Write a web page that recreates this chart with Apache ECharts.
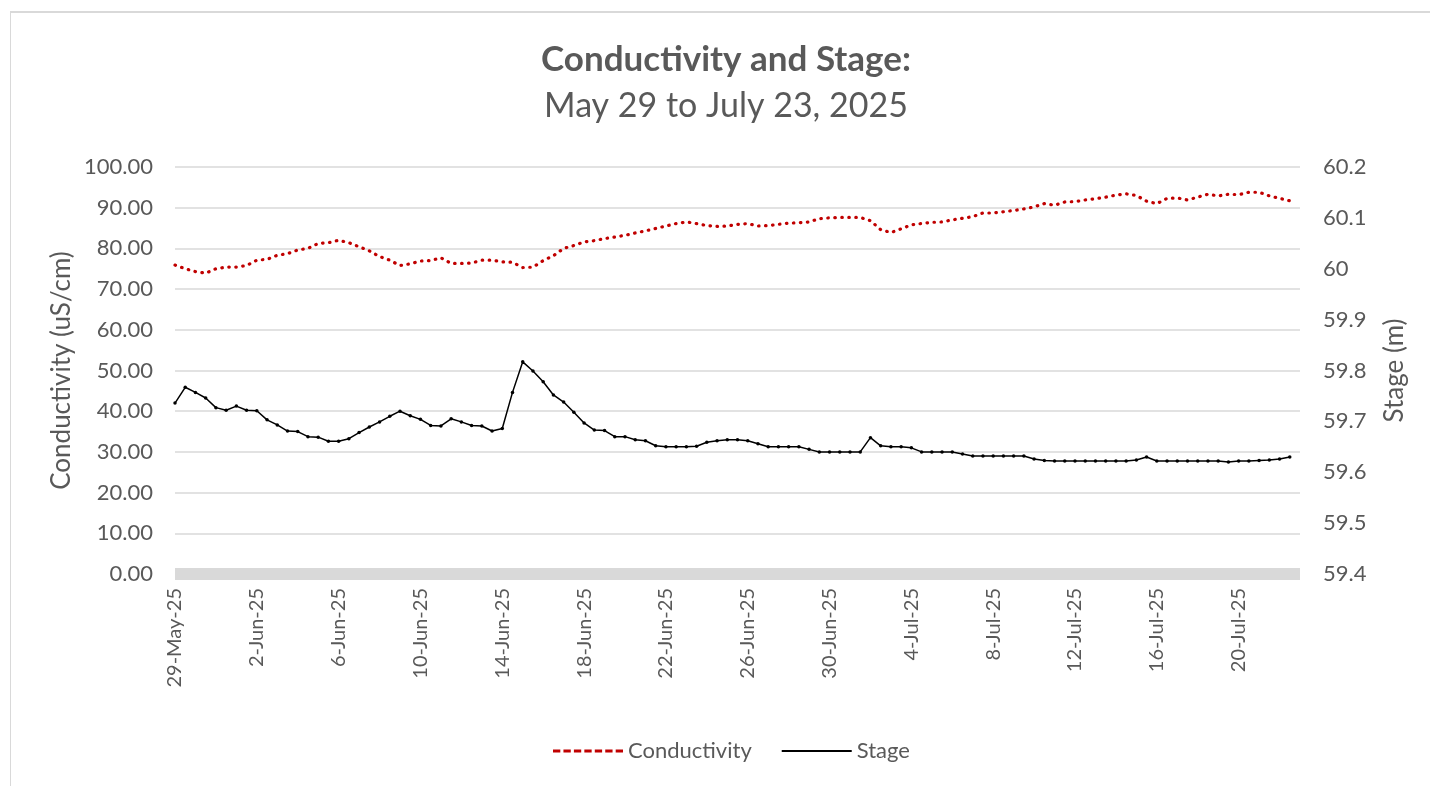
<!DOCTYPE html>
<html>
<head>
<meta charset="utf-8">
<script src="https://cdn.jsdelivr.net/npm/echarts@6/dist/echarts.min.js"></script>
<style>
  html, body { margin: 0; padding: 0; background: #fff; overflow: hidden; }
  #frame { position: absolute; left: 10px; top: 11px; width: 1430px; height: 790px;
           border-left: 1px solid #d9d9d9; border-top: 2px solid #d9d9d9; }
  #chart { position: absolute; left: 0; top: 0; width: 1430px; height: 786px; }
</style>
</head>
<body>
<div id="frame"></div>
<div id="chart"></div>
<script>
// Logger readings every 12 hours, starting 29 May 2025 00:00
const startDate = Date.UTC(2025, 4, 29);
const stepDays = 0.5;

// Conductivity (uS/cm)
const conductivity = [
  75.9, 75.0, 74.3, 73.9, 75.0, 75.4, 75.4, 75.8, 77.1, 77.3,
  78.3, 78.7, 79.6, 80.0, 81.2, 81.4, 82.0, 81.4, 80.4, 79.4,
  78.0, 77.1, 75.8, 76.2, 76.9, 77.0, 77.7, 76.3, 76.3, 76.4,
  77.1, 77.1, 76.7, 76.6, 75.3, 75.4, 77.0, 78.2, 80.0, 80.7,
  81.6, 81.9, 82.4, 82.8, 83.2, 83.8, 84.3, 84.9, 85.5, 86.1,
  86.5, 86.1, 85.6, 85.4, 85.5, 85.9, 86.1, 85.5, 85.6, 85.9,
  86.2, 86.3, 86.5, 87.3, 87.5, 87.6, 87.6, 87.6, 86.8, 84.6,
  83.9, 84.8, 85.8, 86.1, 86.4, 86.5, 87.0, 87.4, 87.8, 88.7,
  88.7, 89.0, 89.3, 89.7, 90.2, 91.0, 90.6, 91.4, 91.5, 91.9,
  92.2, 92.6, 93.1, 93.4, 93.0, 91.6, 91.0, 92.3, 92.4, 91.9,
  92.6, 93.3, 92.9, 93.3, 93.2, 93.8, 93.8, 92.9, 92.3, 91.7
];

// Stage (m)
const stage = [
  59.736, 59.767, 59.757, 59.746, 59.727, 59.722, 59.730, 59.722, 59.721, 59.703,
  59.693, 59.681, 59.680, 59.670, 59.669, 59.661, 59.661, 59.666, 59.678, 59.689,
  59.699, 59.710, 59.720, 59.711, 59.704, 59.692, 59.691, 59.705, 59.699, 59.692,
  59.691, 59.681, 59.686, 59.757, 59.817, 59.799, 59.778, 59.752, 59.738, 59.718,
  59.697, 59.683, 59.682, 59.670, 59.670, 59.664, 59.662, 59.652, 59.650, 59.650,
  59.650, 59.651, 59.659, 59.662, 59.664, 59.664, 59.662, 59.656, 59.650, 59.650,
  59.650, 59.650, 59.645, 59.640, 59.640, 59.640, 59.640, 59.640, 59.668, 59.652,
  59.650, 59.650, 59.648, 59.640, 59.640, 59.640, 59.640, 59.636, 59.632, 59.632,
  59.632, 59.632, 59.632, 59.632, 59.626, 59.623, 59.622, 59.622, 59.622, 59.622,
  59.622, 59.622, 59.622, 59.622, 59.624, 59.630, 59.622, 59.622, 59.622, 59.622,
  59.622, 59.622, 59.622, 59.620, 59.622, 59.622, 59.623, 59.624, 59.626, 59.630
];

// Axis ranges
const dayRange = [0, 55, 4];          // days after start, label every 4 days
const condRange = [0, 100, 10];
const stageRange = [59.4, 60.2, 0.1];
const monthNames = ['Jan','Feb','Mar','Apr','May','Jun','Jul','Aug','Sep','Oct','Nov','Dec'];

const titleText = 'Conductivity and Stage:';
const subtitleText = 'May 29 to July 23, 2025';

function dayLabel(v) {
  if (Math.abs(v % dayRange[2]) > 1e-6) return '';
  const d = new Date(startDate + v * 86400000);
  return d.getUTCDate() + '-' + monthNames[d.getUTCMonth()] + '-' + String(d.getUTCFullYear()).slice(2);
}

const toPairs = arr => arr.map((v, i) => [i * stepDays, v]);

const FONT = 'Lato, "Open Sans", sans-serif';
const TEXT = '#595959';
const GRID = '#d9d9d9';

// legend keys: short red dashes for conductivity, thin solid bar for stage
const dashIcon = 'path://M0,0h7v3h-7z M10,0h7v3h-7z M20,0h7v3h-7z M30,0h7v3h-7z M40,0h7v3h-7z M50,0h7v3h-7z M60,0h7v3h-7z';
const barIcon = 'path://M0,0H67V2H0Z';

const chart = echarts.init(document.getElementById('chart'), null, { renderer: 'canvas' });
chart.setOption({
  backgroundColor: 'transparent',
  animation: false,
  textStyle: { fontFamily: FONT },
  graphic: [
    { type: 'text', x: 726, y: 60,
      style: { text: titleText, fill: TEXT, font: 'bold 35px ' + FONT, align: 'center', verticalAlign: 'middle' } },
    { type: 'text', x: 726, y: 106,
      style: { text: subtitleText, fill: TEXT, font: '34px ' + FONT, align: 'center', verticalAlign: 'middle' } }
  ],
  grid: { left: 175, right: 130, top: 167, bottom: 212, containLabel: false, outerBoundsMode: 'none' },
  legend: {
    left: 548, top: 735, itemWidth: 70, itemHeight: 14, itemGap: 30,
    textStyle: { fontSize: 22, color: TEXT, fontFamily: FONT },
    data: [
      { name: 'Conductivity', icon: dashIcon },
      { name: 'Stage', icon: barIcon }
    ]
  },
  xAxis: {
    type: 'value', min: dayRange[0], max: dayRange[1], interval: dayRange[2],
    axisLine: { show: true, onZero: false, lineStyle: { color: GRID, width: 12, cap: 'butt' } },
    axisTick: { show: false },
    splitLine: { show: false },
    axisLabel: { rotate: 90, margin: 14, fontSize: 20, color: TEXT, fontFamily: FONT,
                 showMaxLabel: false, formatter: dayLabel }
  },
  yAxis: [
    {
      type: 'value', position: 'left', min: condRange[0], max: condRange[1], interval: condRange[2],
      axisLine: { show: false }, axisTick: { show: false },
      splitLine: { show: true, lineStyle: { color: GRID, width: 1.5 } },
      axisLabel: { fontSize: 22, color: TEXT, fontFamily: FONT, margin: 22, formatter: v => v.toFixed(2) },
      name: 'Conductivity (uS/cm)', nameLocation: 'middle', nameRotate: 90, nameGap: 100,
      nameMoveOverlap: false,
      nameTextStyle: { fontSize: 26, color: TEXT, fontFamily: FONT }
    },
    {
      type: 'value', position: 'right', min: stageRange[0], max: stageRange[1], interval: stageRange[2],
      axisLine: { show: false }, axisTick: { show: false },
      splitLine: { show: false },
      axisLabel: { fontSize: 22, color: TEXT, fontFamily: FONT, margin: 23,
                   formatter: v => String(parseFloat(v.toFixed(1))) },
      name: 'Stage (m)', nameLocation: 'middle', nameRotate: 90, nameGap: 82,
      nameMoveOverlap: false,
      nameTextStyle: { fontSize: 26, color: TEXT, fontFamily: FONT }
    }
  ],
  series: [
    {
      name: 'Conductivity', type: 'line', yAxisIndex: 0,
      data: toPairs(conductivity),
      symbol: 'none', smooth: false,
      lineStyle: { color: '#C00000', width: 3.2, type: [0.5, 6.5], cap: 'round' },
      itemStyle: { color: '#C00000' },
      emphasis: { disabled: true }
    },
    {
      name: 'Stage', type: 'line', yAxisIndex: 1,
      data: toPairs(stage),
      symbol: 'circle', symbolSize: 3.5, showSymbol: true,
      lineStyle: { color: '#000000', width: 1.5 },
      itemStyle: { color: '#000000' },
      emphasis: { disabled: true }
    }
  ]
});
</script>
</body>
</html>
